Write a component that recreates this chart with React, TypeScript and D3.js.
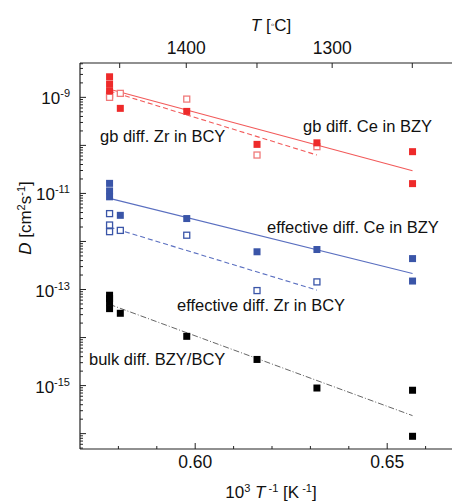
import React, { useRef, useEffect } from 'react';
import * as d3 from 'd3';

// 1000/T values (K^-1 * 1e3) and diffusivities
const gbCeX = [0.5777, 0.5777, 0.5777, 0.5805, 0.5978, 0.6161, 0.6317, 0.6566, 0.6566];
const gbCeD = [2.68e-9, 1.89e-9, 1.37e-9, 5.9e-10, 5.1e-10, 1.05e-10, 1.13e-10, 7.4e-11, 1.6e-11];
const gbZrX = [0.5777, 0.5777, 0.5805, 0.5978, 0.6161, 0.6317];
const gbZrD = [1.12e-9, 1.0e-9, 1.21e-9, 9.2e-10, 6.3e-11, 9.4e-11];
const effCeX = [0.5777, 0.5777, 0.5777, 0.5805, 0.5978, 0.6161, 0.6317, 0.6566, 0.6566];
const effCeD = [1.62e-11, 1.13e-11, 8.5e-12, 3.5e-12, 3.0e-12, 6.1e-13, 6.8e-13, 4.4e-13, 1.5e-13];
const effZrX = [0.5777, 0.5777, 0.5777, 0.5805, 0.5978, 0.6161, 0.6317];
const effZrD = [3.8e-12, 2.2e-12, 1.6e-12, 1.7e-12, 1.35e-12, 9.5e-14, 1.44e-13];
const bulkX = [0.5777, 0.5777, 0.5777, 0.5777, 0.5805, 0.5978, 0.6161, 0.6317, 0.6566, 0.6566];
const bulkD = [7.6e-14, 6.5e-14, 5.4e-14, 4.0e-14, 3.2e-14, 1.06e-14, 3.5e-15, 8.9e-16, 8.0e-16, 8.8e-17];

// Arrhenius fits (end points)
const gbCeFitX = [0.5777, 0.6566];
const gbCeFitD = [1.47e-9, 2.96e-11];
const gbZrFitX = [0.5777, 0.6317];
const gbZrFitD = [1.35e-9, 6.3e-11];
const effCeFitX = [0.5777, 0.6566];
const effCeFitD = [7.9e-12, 2.15e-13];
const effZrFitX = [0.5777, 0.6317];
const effZrFitD = [2.0e-12, 9.7e-14];
const bulkFitX = [0.5777, 0.6566];
const bulkFitD = [4.9e-14, 2.37e-16];

const xTicksMajor = [0.6, 0.65];
const xTicksMinor = [0.58, 0.59, 0.61, 0.62, 0.63, 0.64, 0.66];
const yLabelExp = [-9, -11, -13, -15];
const topTicks = [1450, 1400, 1350, 1300, 1250];
const topLabels = [1400, 1300];

const FONT = "'Liberation Sans', Arial, sans-serif";

const App = () => {
  const ref = useRef<SVGSVGElement>(null);

  useEffect(() => {
    const svg = d3.select(ref.current);
    svg.selectAll('*').remove();

    const left = 80;
    const top = 63;
    const bottom = 449;
    const right = 464;

    const x = d3.scaleLinear().domain([0.57, 0.67]).range([left, right]);
    const y = d3
      .scaleLog()
      .domain([10 ** -16.32, 10 ** -8.285])
      .range([bottom, top]);

    const g = svg.append('g').style('font-family', FONT);

    // axis lines
    g.append('line').attr('x1', left).attr('x2', 452).attr('y1', top).attr('y2', top).attr('stroke', '#222').attr('stroke-width', 1.2);
    g.append('line').attr('x1', left).attr('x2', 452).attr('y1', bottom).attr('y2', bottom).attr('stroke', '#222').attr('stroke-width', 1.2);
    g.append('line').attr('x1', left).attr('x2', left).attr('y1', top).attr('y2', bottom).attr('stroke', '#222').attr('stroke-width', 1.2);

    // bottom ticks (inward)
    xTicksMajor.forEach((t) => {
      g.append('line').attr('x1', x(t)).attr('x2', x(t)).attr('y1', bottom).attr('y2', bottom - 6).attr('stroke', '#222');
      g.append('text')
        .attr('x', x(t))
        .attr('y', bottom + 19)
        .attr('text-anchor', 'middle')
        .style('font-size', '17.5px')
        .attr('fill', '#111')
        .text(t.toFixed(2));
    });
    xTicksMinor.forEach((t) => {
      g.append('line').attr('x1', x(t)).attr('x2', x(t)).attr('y1', bottom).attr('y2', bottom - 3).attr('stroke', '#222');
    });

    // top axis in deg C
    topTicks.forEach((t) => {
      const xx = x(1000 / (t + 273.15));
      g.append('line').attr('x1', xx).attr('x2', xx).attr('y1', top).attr('y2', top + 5).attr('stroke', '#222');
    });
    topLabels.forEach((t) => {
      g.append('text')
        .attr('x', x(1000 / (t + 273.15)))
        .attr('y', 54)
        .attr('text-anchor', 'middle')
        .style('font-size', '17.5px')
        .attr('fill', '#111')
        .text(String(t));
    });

    // left ticks: decades + minor
    for (let e = -17; e <= -8; e++) {
      for (let m = 1; m <= 9; m++) {
        const v = m * 10 ** e;
        const yy = y(v);
        if (yy < top || yy > bottom) continue;
        g.append('line')
          .attr('x1', left)
          .attr('x2', left + (m === 1 ? 6 : 3))
          .attr('y1', yy)
          .attr('y2', yy)
          .attr('stroke', '#222');
      }
    }
    yLabelExp.forEach((e) => {
      const t = g
        .append('text')
        .attr('x', 70)
        .attr('y', y(10 ** e) + 7)
        .attr('text-anchor', 'end')
        .style('font-size', '17px')
        .attr('fill', '#111');
      t.append('tspan').text('10');
      t.append('tspan').attr('dy', -7).style('font-size', '11px').text(String(e).replace('-', '-'));
    });

    // axis titles
    const yt = g
      .append('text')
      .attr('transform', 'translate(31,218) rotate(-90)')
      .attr('text-anchor', 'middle')
      .style('font-size', '17px')
      .attr('fill', '#111');
    yt.append('tspan').style('font-style', 'italic').text('D');
    yt.append('tspan').text(' [cm');
    yt.append('tspan').attr('dy', -6).style('font-size', '11px').text('2');
    yt.append('tspan').attr('dy', 6).text('s');
    yt.append('tspan').attr('dy', -6).style('font-size', '11px').text('-1');
    yt.append('tspan').attr('dy', 6).text(']');

    const xt = g
      .append('text')
      .attr('x', 271)
      .attr('y', 498)
      .attr('text-anchor', 'middle')
      .style('font-size', '17px')
      .attr('fill', '#111');
    xt.append('tspan').text('10');
    xt.append('tspan').attr('dy', -6).style('font-size', '11px').text('3');
    xt.append('tspan').attr('dy', 6).text(' ');
    xt.append('tspan').style('font-style', 'italic').text('T');
    xt.append('tspan').attr('dy', -6).style('font-size', '11px').text(' -1');
    xt.append('tspan').attr('dy', 6).text(' [K');
    xt.append('tspan').attr('dy', -6).style('font-size', '11px').text(' -1');
    xt.append('tspan').attr('dy', 6).text(']');

    const tt = g
      .append('text')
      .attr('x', 271)
      .attr('y', 31)
      .attr('text-anchor', 'middle')
      .style('font-size', '17px')
      .attr('fill', '#111');
    tt.append('tspan').style('font-style', 'italic').text('T');
    tt.append('tspan').text(' [');
    tt.append('tspan').style('font-size', '10px').attr('dy', -3).text('\u25E6');
    tt.append('tspan').attr('dy', 3).text('C]');

    // fit lines
    const line = d3
      .line<[number, number]>()
      .x((d) => x(d[0]))
      .y((d) => y(d[1]));
    const fits: [number[], number[], string, string, number][] = [
      [gbCeFitX, gbCeFitD, '#f25a5a', 'none', 1.1],
      [gbZrFitX, gbZrFitD, '#f25a5a', '5,3', 1.1],
      [effCeFitX, effCeFitD, '#5a6fc0', 'none', 1.1],
      [effZrFitX, effZrFitD, '#5a6fc0', '5,3', 1.1],
      [bulkFitX, bulkFitD, '#555', '6,2,1,2', 0.9],
    ];
    fits.forEach(([xs, ds, c, dash, w]) => {
      g.append('path')
        .datum(xs.map((v, i) => [v, ds[i]] as [number, number]))
        .attr('d', line)
        .attr('fill', 'none')
        .attr('stroke', c)
        .attr('stroke-width', w)
        .attr('stroke-dasharray', dash);
    });

    // markers
    const filled = (xs: number[], ds: number[], c: string) => {
      g.append('g')
        .selectAll('rect')
        .data(xs.map((v, i) => [v, ds[i]]))
        .enter()
        .append('rect')
        .attr('x', (d) => x(d[0]) - 3.5)
        .attr('y', (d) => y(d[1]) - 3.5)
        .attr('width', 7)
        .attr('height', 7)
        .attr('fill', c);
    };
    const open = (xs: number[], ds: number[], c: string) => {
      g.append('g')
        .selectAll('rect')
        .data(xs.map((v, i) => [v, ds[i]]))
        .enter()
        .append('rect')
        .attr('x', (d) => x(d[0]) - 3)
        .attr('y', (d) => y(d[1]) - 3)
        .attr('width', 6)
        .attr('height', 6)
        .attr('fill', '#fff')
        .attr('stroke', c)
        .attr('stroke-width', 1.3);
    };
    open(gbZrX, gbZrD, '#f07a7a');
    filled(gbCeX, gbCeD, '#ee2a2a');
    open(effZrX, effZrD, '#3a55a8');
    filled(effCeX, effCeD, '#3a55a8');
    filled(bulkX, bulkD, '#000');

    // series labels
    const labels: [string, number, number][] = [
      ['gb diff. Zr in BCY', 100, 142],
      ['gb diff. Ce in BZY', 303, 132],
      ['effective diff. Ce in BZY', 267, 233],
      ['effective diff. Zr in BCY', 177, 311],
      ['bulk diff. BZY/BCY', 89, 365],
    ];
    labels.forEach(([s, lx, ly]) => {
      g.append('text')
        .attr('x', lx)
        .attr('y', ly)
        .style('font-size', '16.5px')
        .attr('fill', '#111')
        .text(s);
    });
  }, []);

  return (
    <svg
      ref={ref}
      width={452}
      height={504}
      style={{ position: 'absolute', left: 0, top: 0, background: '#fff' }}
    ></svg>
  );
};

export default App;
